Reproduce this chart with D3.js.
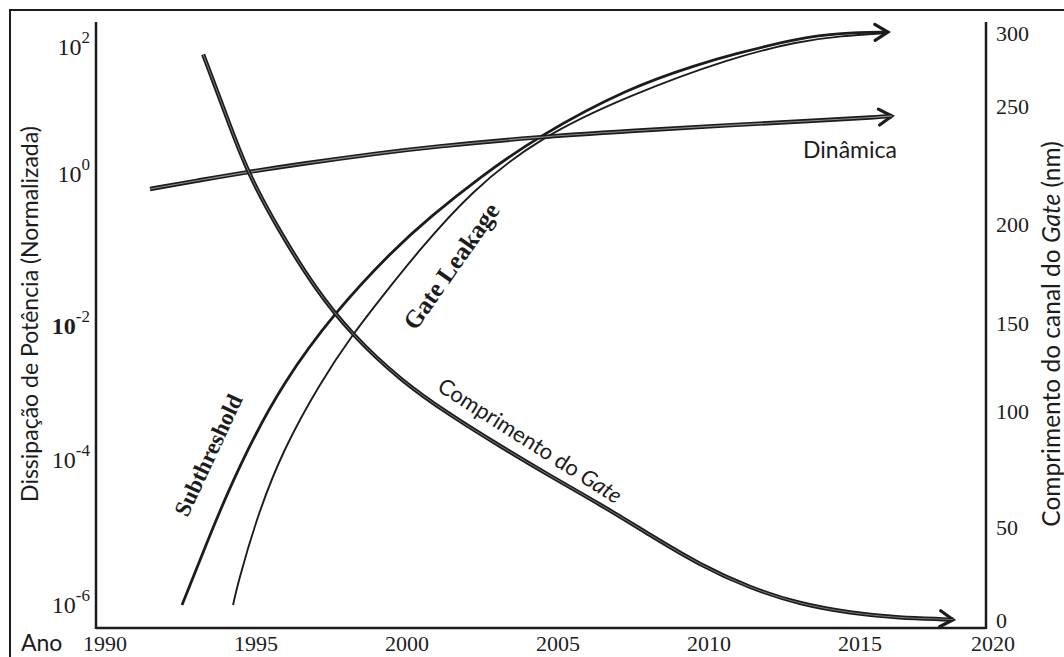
<!DOCTYPE html>
<html>
<head>
<meta charset="utf-8">
<script src="https://cdn.jsdelivr.net/npm/d3@7"></script>
<style>
  html, body { margin: 0; padding: 0; background: #fff; }
  svg { display: block; }
</style>
</head>
<body>
<svg id="chart" width="1064" height="657"></svg>
<script>
// ---- tick labels ----
const yearTicks = [1990, 1995, 2000, 2005, 2010, 2015, 2020];
const powerTicks = [1e2, 1, 1e-2, 1e-4, 1e-6];
const powerExponents = ["2", "0", "-2", "-4", "-6"];
const lengthTicks = [0, 50, 100, 150, 200, 250, 300];

// ---- series: dynamic power (normalized, log axis) ----
const dinamicaYears = [1991.49, 1993.15, 1994.70, 1996.46, 1999.11, 2000.76, 2004.30, 2007.38, 2010.70, 2013.34, 2015.75, 2016.20];
const dinamicaPower = [0.635, 0.83, 1.07, 1.44, 2.14, 2.66, 3.83, 4.75, 5.91, 6.83, 7.90, 8.19];

// ---- series: subthreshold leakage power ----
const subthresholdYears = [1992.55, 1993.15, 1993.71, 1994.70, 1995.89, 1997.58, 1999.54, 2000.76, 2002.42, 2004.30, 2007.38, 2009.70, 2010.70, 2013.01, 2014.34, 2016.05];
const subthresholdPower = [1e-6, 4.18e-6, 1.64e-5, 1.41e-4, 1.41e-3, 0.0148, 0.1, 0.272, 0.91, 3.83, 23.4, 54, 74.8, 139, 166, 172];

// ---- series: gate leakage power ----
const gateLeakageYears = [1994.24, 1994.40, 1995.03, 1995.89, 1997.12, 1998.18, 1999.27, 2000.33, 2002.09, 2004.40, 2007.38, 2010.70, 2013.01, 2014.34, 2016.05];
const gateLeakagePower = [1e-6, 2.01e-6, 1.64e-5, 1.41e-4, 1.41e-3, 7.34e-3, 0.0272, 0.0914, 0.58, 3.83, 17.5, 67.1, 124, 149, 166];

// ---- series: gate channel length (nm, right axis) ----
const gateLengthYears = [1993.25, 1993.97, 1994.70, 1995.79, 1996.95, 1998.18, 1999.77, 2001.42, 2003.08, 2004.74, 2006.39, 2008.05, 2009.70, 2011.36, 2013.01, 2014.67, 2016.50, 2018.20, 2018.50];
const gateLengthNm = [286, 248, 222.5, 196.5, 168, 143.8, 118.2, 98.7, 85.3, 72.4, 60.3, 46.2, 30.1, 17.7, 9.1, 4.3, 1.6, 1.0, 0.7];

// ---- layout ----
const frame = { left: 96, right: 986, top: 22, bottom: 628 };
const ink = "#1c1c1c";
const sans = "Lato, 'Open Sans', sans-serif";
const serif = "'Liberation Serif', 'Times New Roman', serif";

const x = d3.scaleLinear().domain([1990, 2015, 2020]).range([105, 860, 993]);
const yPow = d3.scaleLog()
  .domain([1e-6, 1e-4, 1e-2, 1, 1e2])
  .range([605, 460, 326, 174, 47]);
const yLen = d3.scaleLinear()
  .domain([0, 50, 100, 150, 200, 250, 300])
  .range([621, 528, 412, 324, 225, 107, 34]);

const svg = d3.select("#chart");

// outer border
svg.append("rect")
  .attr("x", 10).attr("y", 10).attr("width", 1090).attr("height", 700)
  .attr("fill", "none").attr("stroke", ink).attr("stroke-width", 2);

// arrow head
svg.append("defs").append("marker")
  .attr("id", "chevron")
  .attr("viewBox", "-18 -12 24 24")
  .attr("markerWidth", 24).attr("markerHeight", 24)
  .attr("refX", 0).attr("refY", 0)
  .attr("orient", "auto")
  .attr("markerUnits", "userSpaceOnUse")
  .style("overflow", "visible")
  .append("path")
  .attr("d", "M-13,-8L0,0L-13,8")
  .attr("fill", "none").attr("stroke", ink)
  .attr("stroke-width", 3.2).attr("stroke-linecap", "round");

// axes frame
const axisG = svg.append("g").attr("stroke", ink).attr("stroke-width", 2.5).attr("fill", "none");
axisG.append("line").attr("x1", frame.left).attr("x2", frame.left).attr("y1", frame.top).attr("y2", frame.bottom + 1);
axisG.append("line").attr("x1", frame.right).attr("x2", frame.right).attr("y1", frame.top).attr("y2", frame.bottom + 1);
axisG.append("line").attr("x1", frame.left).attr("x2", frame.right).attr("y1", frame.bottom).attr("y2", frame.bottom);

// x tick labels
svg.append("g").selectAll("text").data(yearTicks).join("text")
  .attr("x", d => x(d)).attr("y", 651)
  .attr("text-anchor", "middle")
  .attr("font-family", serif).attr("font-size", 22).attr("fill", ink)
  .text(d => d);

svg.append("text")
  .attr("x", 21).attr("y", 651)
  .attr("font-family", sans).attr("font-size", 23).attr("fill", ink)
  .text("Ano");

// left (log) tick labels
const leftLabels = svg.append("g").selectAll("text").data(powerTicks).join("text")
  .attr("x", 90).attr("y", d => yPow(d) + 8)
  .attr("text-anchor", "end")
  .attr("font-family", serif).attr("font-size", 24).attr("fill", ink);
leftLabels.append("tspan")
  .attr("font-weight", (d, i) => powerExponents[i] === "-2" ? "bold" : "normal")
  .text("10");
leftLabels.append("tspan")
  .attr("dy", -12).attr("font-size", 17)
  .text((d, i) => powerExponents[i]);

// right tick labels
svg.append("g").selectAll("text").data(lengthTicks).join("text")
  .attr("x", 996).attr("y", d => yLen(d) + 6.5)
  .attr("font-family", serif).attr("font-size", 22).attr("fill", ink)
  .text(d => d);

// axis titles
svg.append("text")
  .attr("transform", "translate(38,314) rotate(-90)")
  .attr("text-anchor", "middle")
  .attr("font-family", sans).attr("font-size", 23).attr("fill", ink)
  .text("Dissipação de Potência (Normalizada)");

const rTitle = svg.append("text")
  .attr("transform", "translate(1060,334) rotate(-90)")
  .attr("text-anchor", "middle")
  .attr("font-family", sans).attr("font-size", 24.5).attr("fill", ink);
rTitle.append("tspan").text("Comprimento do canal do ");
rTitle.append("tspan").attr("font-style", "italic").text("Gate");
rTitle.append("tspan").text(" (nm)");

// curves
const zip = (a, b) => a.map((v, i) => [v, b[i]]);
const powLine = d3.line().x(d => x(d[0])).y(d => yPow(d[1])).curve(d3.curveBasis);
const lenLine = d3.line().x(d => x(d[0])).y(d => yLen(d[1])).curve(d3.curveBasis);

const curves = svg.append("g").attr("fill", "none").attr("stroke-linecap", "butt");

// gate leakage (thin)
curves.append("path")
  .attr("d", powLine(zip(gateLeakageYears, gateLeakagePower)))
  .attr("stroke", ink).attr("stroke-width", 1.9);

// subthreshold
curves.append("path")
  .attr("d", powLine(zip(subthresholdYears, subthresholdPower)))
  .attr("stroke", ink).attr("stroke-width", 2.8)
  .attr("marker-end", "url(#chevron)");

// dynamic power (doubled stroke)
const dinD = powLine(zip(dinamicaYears, dinamicaPower));
curves.append("path").attr("d", dinD)
  .attr("stroke", ink).attr("stroke-width", 4.4)
  .attr("marker-end", "url(#chevron)");
curves.append("path").attr("d", dinD)
  .attr("stroke", "#8c8c8c").attr("stroke-width", 1.1);

// gate length (doubled stroke)
const lenD = lenLine(zip(gateLengthYears, gateLengthNm));
curves.append("path").attr("d", lenD)
  .attr("stroke", ink).attr("stroke-width", 4.2)
  .attr("marker-end", "url(#chevron)");
curves.append("path").attr("d", lenD)
  .attr("stroke", "#7a7a7a").attr("stroke-width", 1);

// curve labels
svg.append("text")
  .attr("x", 850).attr("y", 158)
  .attr("text-anchor", "middle")
  .attr("font-family", sans).attr("font-size", 23).attr("fill", ink)
  .text("Dinâmica");

svg.append("text")
  .attr("transform", "translate(208,455) rotate(-65)")
  .attr("text-anchor", "middle").attr("dy", "0.35em")
  .attr("font-family", serif).attr("font-weight", "bold").attr("font-size", 23).attr("fill", ink)
  .text("Subthreshold");

svg.append("text")
  .attr("transform", "translate(451,266) rotate(-55)")
  .attr("text-anchor", "middle").attr("dy", "0.35em")
  .attr("font-family", serif).attr("font-weight", "bold").attr("font-size", 25).attr("fill", ink)
  .text("Gate Leakage");

const cLabel = svg.append("text")
  .attr("transform", "translate(436,390) rotate(32.5)")
  .attr("font-family", sans).attr("font-size", 22).attr("fill", ink);
cLabel.append("tspan").text("Comprimento do ");
cLabel.append("tspan").attr("font-style", "italic").text("Gate");
</script>
</body>
</html>
